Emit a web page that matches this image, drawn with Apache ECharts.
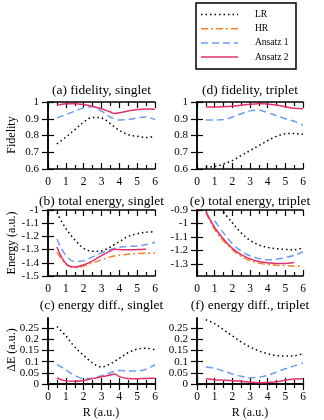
<!DOCTYPE html>
<html>
<head>
<meta charset="utf-8">
<script src="https://cdn.jsdelivr.net/npm/echarts@6/dist/echarts.min.js"></script>
<style>
  html, body { margin: 0; padding: 0; background: #fff; }
  #chart { width: 324px; height: 420px; }
</style>
</head>
<body>
<div id="chart"></div>
<script>
// R grid (a.u.) shared by every curve
var rGrid = [0.5, 1, 1.5, 2, 2.5, 3, 3.5, 3.75, 4, 4.5, 5, 5.5, 6];

// (a) fidelity, singlet
var fidSingletLR = [0.75, 0.79, 0.835, 0.88, 0.908, 0.905, 0.87, 0.85, 0.83, 0.805, 0.795, 0.788, 0.795];
var fidSingletA1 = [0.905, 0.925, 0.945, 0.965, 0.972, 0.945, 0.91, 0.9, 0.893, 0.895, 0.905, 0.91, 0.895];
var fidSingletA2 = [0.98, 0.99, 0.99, 0.985, 0.975, 0.96, 0.94, 0.931, 0.936, 0.946, 0.955, 0.958, 0.957];
// (d) fidelity, triplet
var fidTripletLR = [0.61, 0.615, 0.63, 0.65, 0.68, 0.71, 0.74, 0.755, 0.77, 0.795, 0.81, 0.812, 0.808];
var fidTripletA1 = [0.893, 0.892, 0.895, 0.91, 0.93, 0.947, 0.952, 0.945, 0.937, 0.918, 0.9, 0.885, 0.86];
var fidTripletA2 = [0.97, 0.97, 0.972, 0.975, 0.98, 0.987, 0.99, 0.99, 0.988, 0.982, 0.972, 0.963, 0.96];
// (b) total energy, singlet
var enSingletLR = [-1.02, -1.14, -1.225, -1.29, -1.313, -1.31, -1.28, -1.26, -1.24, -1.2, -1.18, -1.168, -1.165];
var enSingletHR = [-1.32, -1.41, -1.437, -1.425, -1.4, -1.378, -1.355, -1.348, -1.343, -1.335, -1.33, -1.327, -1.327];
var enSingletA1 = [-1.22, -1.345, -1.39, -1.385, -1.355, -1.325, -1.3, -1.29, -1.282, -1.277, -1.272, -1.262, -1.245];
var enSingletA2 = [-1.28, -1.405, -1.432, -1.415, -1.385, -1.345, -1.31, -1.298, -1.3, -1.302, -1.3, -1.298, null];
// (e) total energy, triplet
var enTripletLR = [null, null, -0.915, -0.995, -1.07, -1.125, -1.16, -1.17, -1.178, -1.188, -1.193, -1.195, -1.18];
var enTripletHR = [-0.92, -1.045, -1.13, -1.195, -1.245, -1.275, -1.293, -1.3, -1.305, -1.31, -1.313, -1.315, -1.315];
var enTripletA1 = [null, -0.98, -1.07, -1.15, -1.205, -1.24, -1.26, -1.266, -1.27, -1.265, -1.252, -1.237, -1.21];
var enTripletA2 = [-0.91, -1.03, -1.115, -1.185, -1.232, -1.263, -1.282, -1.288, -1.292, -1.298, -1.297, -1.29, null];
// (c) energy diff., singlet
var dESingletLR = [0.257, 0.215, 0.165, 0.128, 0.094, 0.076, 0.09, 0.102, 0.115, 0.14, 0.156, 0.16, 0.153];
var dESingletA1 = [0.088, 0.063, 0.038, 0.024, 0.026, 0.037, 0.05, 0.057, 0.06, 0.058, 0.058, 0.066, 0.086];
var dESingletA2 = [0.027, 0.014, 0.012, 0.016, 0.024, 0.032, 0.04, 0.045, 0.033, 0.025, 0.024, 0.025, 0.026];
// (f) energy diff., triplet
var dETripletLR = [0.287, 0.27, 0.243, 0.215, 0.188, 0.165, 0.148, 0.141, 0.135, 0.127, 0.125, 0.126, 0.136];
var dETripletA1 = [0.076, 0.07, 0.058, 0.045, 0.035, 0.028, 0.03, 0.034, 0.039, 0.053, 0.068, 0.081, 0.094];
var dETripletA2 = [0.023, 0.019, 0.017, 0.015, 0.012, 0.008, 0.006, 0.006, 0.007, 0.01, 0.017, 0.022, 0.024];

// tick labels
var xTicks = [0, 1, 2, 3, 4, 5, 6];
var fidTicks = [0.6, 0.7, 0.8, 0.9, 1];
var enSingletTicks = [-1.5, -1.4, -1.3, -1.2, -1.1, -1];
var enTripletTicks = [-1.3, -1.2, -1.1, -1, -0.9];
var dETicks = [0, 0.05, 0.1, 0.15, 0.2, 0.25];

var names = ['LR', 'HR', 'Ansatz 1', 'Ansatz 2'];

var FONT = 'Liberation Serif';
var styles = {
  'LR':       { color: '#000000', width: 1.5, type: [1.5, 3] },
  'HR':       { color: '#f5842a', width: 1.5, type: [7, 3, 2, 3] },
  'Ansatz 1': { color: '#6f9cf6', width: 1.5, type: [7, 4] },
  'Ansatz 2': { color: '#e3306f', width: 1.5, type: 'solid' }
};

var panels = [
  { title: '(a) fidelity, singlet', left: 48, top: 102, width: 107, height: 67, min: 0.6, max: 1, ticks: fidTicks, titleY: 90,
    data: { 'LR': fidSingletLR, 'Ansatz 1': fidSingletA1, 'Ansatz 2': fidSingletA2 } },
  { title: '(d) fidelity, triplet', left: 197, top: 102, width: 106, height: 67, min: 0.6, max: 1, ticks: fidTicks, titleY: 90,
    data: { 'LR': fidTripletLR, 'Ansatz 1': fidTripletA1, 'Ansatz 2': fidTripletA2 } },
  { title: '(b) total energy, singlet', left: 48, top: 210, width: 107, height: 66, min: -1.5, max: -1, ticks: enSingletTicks, titleY: 201,
    data: { 'LR': enSingletLR, 'HR': enSingletHR, 'Ansatz 1': enSingletA1, 'Ansatz 2': enSingletA2 } },
  { title: '(e) total energy, triplet', left: 197, top: 210, width: 106, height: 66, min: -1.39, max: -0.9, ticks: enTripletTicks, titleY: 201,
    data: { 'LR': enTripletLR, 'HR': enTripletHR, 'Ansatz 1': enTripletA1, 'Ansatz 2': enTripletA2 } },
  { title: '(c) energy diff., singlet', left: 48, top: 318, width: 107, height: 66, min: 0, max: 0.295, ticks: dETicks, titleY: 305,
    data: { 'LR': dESingletLR, 'Ansatz 1': dESingletA1, 'Ansatz 2': dESingletA2 } },
  { title: '(f) energy diff., triplet', left: 197, top: 318, width: 106, height: 66, min: 0, max: 0.295, ticks: dETicks, titleY: 305,
    data: { 'LR': dETripletLR, 'Ansatz 1': dETripletA1, 'Ansatz 2': dETripletA2 } }
];

var grids = [], xAxes = [], yAxes = [], series = [], graphics = [];
var lineBlack = { show: true, lineStyle: { color: '#000', width: 1.5 } };

panels.forEach(function (p, gi) {
  grids.push({ left: p.left, top: p.top, width: p.width, height: p.height, containLabel: false });
  [['bottom', true], ['top', false]].forEach(function (pos) {
    xAxes.push({
      type: 'value', gridIndex: gi, position: pos[0], min: 0, max: 6, interval: 1,
      axisLine: lineBlack,
      axisTick: { show: true, inside: true, length: 6, lineStyle: { color: '#000', width: 1.2 } },
      minorTick: { show: true, splitNumber: 2, length: 4, lineStyle: { color: '#000', width: 1.2 } },
      axisLabel: { show: pos[1], margin: 7, color: '#000', fontFamily: FONT, fontSize: 11.5,
        customValues: xTicks, showMinLabel: true, showMaxLabel: true },
      splitLine: { show: false }
    });
  });
  [['left', true], ['right', false]].forEach(function (pos) {
    yAxes.push({
      type: 'value', gridIndex: gi, position: pos[0], min: p.min, max: p.max,
      axisLine: lineBlack,
      axisTick: { show: true, inside: true, length: 6, customValues: p.ticks, lineStyle: { color: '#000', width: 1.2 } },
      axisLabel: { show: pos[1], margin: 9, color: '#000', fontFamily: FONT, fontSize: 11,
        customValues: p.ticks, showMinLabel: true, showMaxLabel: true },
      splitLine: { show: false }
    });
  });
  names.forEach(function (n) {
    var vals = p.data[n];
    if (!vals) return;
    var pts = [];
    rGrid.forEach(function (r, i) { if (vals[i] != null) pts.push([r, vals[i]]); });
    series.push({
      name: n, type: 'line', xAxisIndex: gi * 2, yAxisIndex: gi * 2,
      data: pts, smooth: 0.35, symbol: 'none', clip: true, silent: true,
      lineStyle: { color: styles[n].color, width: styles[n].width, type: styles[n].type }
    });
  });
  graphics.push({
    type: 'text', x: p.left + p.width / 2, y: p.titleY,
    style: { text: p.title, fontFamily: FONT, fontSize: 13.5, fill: '#000', textAlign: 'center', textVerticalAlign: 'middle' }
  });
});

// axis titles
var axisTitles = [
  { text: 'Fidelity', x: 12, y: 135, rot: true },
  { text: 'Energy (a.u.)', x: 12, y: 243, rot: true },
  { text: 'ΔE (a.u.)', x: 12, y: 350, rot: true },
  { text: 'R (a.u.)', x: 101, y: 413, rot: false },
  { text: 'R (a.u.)', x: 250, y: 413, rot: false }
];
axisTitles.forEach(function (t) {
  graphics.push({
    type: 'text', x: t.x, y: t.y, rotation: t.rot ? Math.PI / 2 : 0,
    style: { text: t.text, fontFamily: FONT, fontSize: 12, fill: '#000', textAlign: 'center', textVerticalAlign: 'middle' }
  });
});

// legend box
graphics.push({
  type: 'rect', shape: { x: 196, y: 3, width: 100, height: 66 },
  style: { fill: '#fff', stroke: '#000', lineWidth: 1.5 }, z: 10
});
names.forEach(function (n, i) {
  var y = 14.5 + i * 14.2;
  graphics.push({
    type: 'line', shape: { x1: 201, y1: y, x2: 238, y2: y }, z: 11,
    style: { stroke: styles[n].color, lineWidth: styles[n].width, lineDash: styles[n].type === 'solid' ? null : styles[n].type }
  });
  graphics.push({
    type: 'text', x: 255, y: y, z: 11,
    style: { text: n, fontFamily: FONT, fontSize: 9.5, fill: '#000', textAlign: 'left', textVerticalAlign: 'middle' }
  });
});

var myChart = echarts.init(document.getElementById('chart'), null, { renderer: 'canvas' });
myChart.setOption({
  animation: false,
  grid: grids,
  xAxis: xAxes,
  yAxis: yAxes,
  series: series,
  graphic: graphics
});
window.addEventListener('resize', function () {
  myChart.resize();
});
</script>
</body>
</html>
